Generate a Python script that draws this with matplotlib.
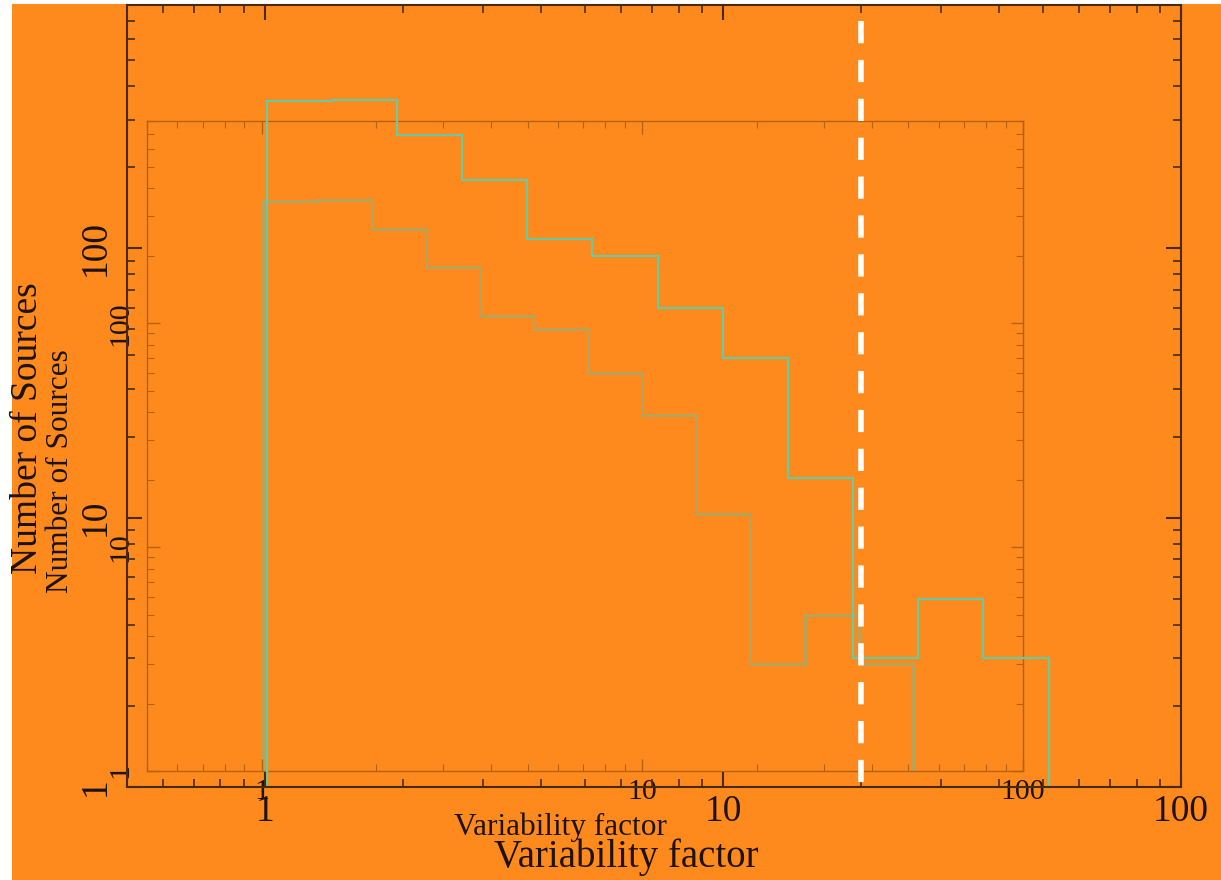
import matplotlib
matplotlib.use('Agg')
import matplotlib.pyplot as plt
from matplotlib import ticker
from matplotlib.patches import Rectangle

plt.rcParams['font.family'] = ['Liberation Serif', 'DejaVu Serif']

# histogram (same data drawn in both frames)
bin_edges = [1.01, 1.40, 1.945, 2.70, 3.74, 5.19, 7.20, 10.0, 13.87, 19.24, 26.7, 37.0, 51.4]
counts = [352, 354, 264, 179, 108, 94, 60, 39, 14, 3, 5, 3]
cut_value = 20  # white dashed line, outer frame

x_ticks = [1, 10, 100]
y_ticks = [1, 10, 100]

ORANGE = '#fe8a1d'
W, H = 1221, 880

fig = plt.figure(figsize=(W / 100, H / 100), dpi=100, facecolor='white')
fig.add_artist(Rectangle((12 / W, 0), 1 - 12 / W, 876 / H, transform=fig.transFigure,
                         facecolor=ORANGE, edgecolor='none', zorder=-10))

outer = fig.add_axes([127 / W, 93 / H, 1054 / W, 782 / H])
inner = fig.add_axes([147 / W, 109 / H, 876 / W, 650 / H])
outer.set_zorder(3)
inner.set_zorder(2)


def setup(ax, spine_col, lw, major, minor, size, xpad, ypad):
    ax.set_facecolor('none')
    ax.set_xscale('log')
    ax.set_yscale('log')
    ax.set_xlim(0.5, 100)
    ax.set_ylim(1, 800)
    ax.xaxis.set_major_locator(ticker.FixedLocator(x_ticks))
    ax.yaxis.set_major_locator(ticker.FixedLocator(y_ticks))
    fmt = ticker.FuncFormatter(lambda v, p: '%g' % v)
    ax.xaxis.set_major_formatter(fmt)
    ax.yaxis.set_major_formatter(fmt)
    ax.xaxis.set_minor_locator(ticker.LogLocator(base=10, subs=range(2, 10)))
    ax.yaxis.set_minor_locator(ticker.LogLocator(base=10, subs=range(2, 10)))
    ax.xaxis.set_minor_formatter(ticker.NullFormatter())
    ax.yaxis.set_minor_formatter(ticker.NullFormatter())
    for s in ax.spines.values():
        s.set_color(spine_col)
        s.set_linewidth(lw)
    ax.tick_params(which='both', direction='in', top=True, right=True,
                   color=spine_col, labelcolor='#1c1206', labelsize=size)
    ax.tick_params(which='major', length=major, width=lw)
    ax.tick_params(which='minor', length=minor, width=lw * 0.8)
    ax.tick_params(axis='x', pad=xpad)
    ax.tick_params(axis='y', pad=ypad, labelrotation=90)
    for lab in ax.get_yticklabels():
        lab.set_va('center')


setup(outer, '#4a2a06', 1.5, 10.5, 6, 27, 5.5, 10)
setup(inner, '#b4620f', 1.0, 9, 5, 21.5, 5.5, 9.5)

# histograms
outer.stairs(counts, bin_edges, baseline=0.01, color='#6cc89e', linewidth=1.6)
inner.stairs(counts, bin_edges, baseline=0.01, color='#66c2a5', alpha=0.45, linewidth=2.2)

# cut line
outer.plot([cut_value, cut_value], [700, 1], color='white', linewidth=4,
           dashes=(4, 3), dash_capstyle='butt', clip_on=False)

# axis labels
outer.set_xlabel('Variability factor', fontsize=28, color='#1c1206')
outer.xaxis.set_label_coords(0.4734, -0.0652)
outer.set_ylabel('Number of Sources', fontsize=27, color='#1c1206')
outer.yaxis.set_label_coords(-0.0778, 0.459)

inner.set_xlabel('Variability factor', fontsize=22.5, color='#1c1206')
inner.xaxis.set_label_coords(0.4715, -0.0646)
inner.set_ylabel('Number of Sources', fontsize=22.5, color='#1c1206')
inner.yaxis.set_label_coords(-0.0822, 0.4615)

fig.savefig('out.png', dpi=100, facecolor=fig.get_facecolor())
